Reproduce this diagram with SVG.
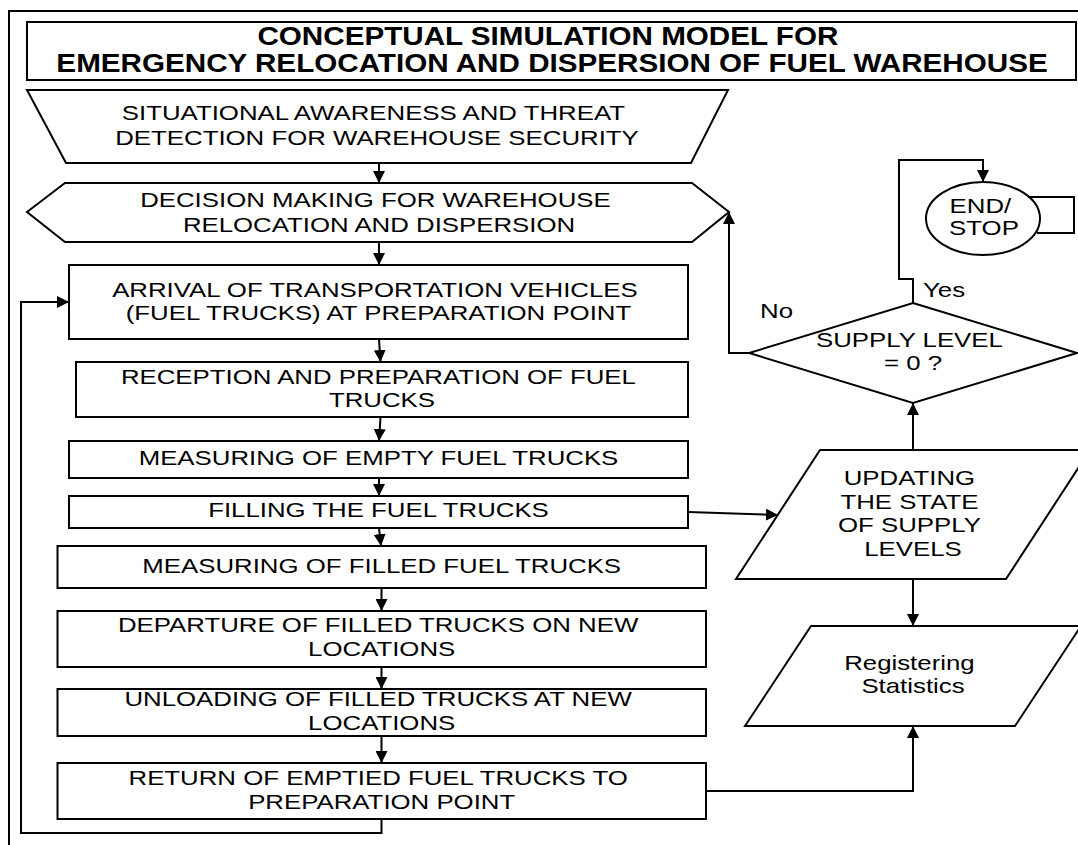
<svg xmlns="http://www.w3.org/2000/svg" width="1078" height="845" viewBox="0 0 1078 845">
  <style>
    .shape { fill: #ffffff; stroke: #000000; stroke-width: 2; }
    .frame { fill: none; stroke: #000000; stroke-width: 2; }
    .conn { fill: none; stroke: #000000; stroke-width: 2; }
    .arr { marker-end: url(#ah); }
    .t { font-family: "Liberation Sans", Arial, sans-serif; font-size: 20px; fill: #000000; text-anchor: middle; }
    .title { font-family: "Liberation Sans", Arial, sans-serif; font-size: 25px; font-weight: bold; fill: #000000; text-anchor: middle; }
    .lbl { font-family: "Liberation Sans", Arial, sans-serif; font-size: 20px; fill: #000000; text-anchor: start; }
  </style>
  <defs>
    <marker id="ah" viewBox="0 0 12 12" refX="12" refY="6" markerWidth="12" markerHeight="12" markerUnits="userSpaceOnUse" orient="auto">
      <path d="M0,0 L12,6 L0,12 z" fill="#000000"/>
    </marker>
  </defs>

  <rect width="1078" height="845" fill="#ffffff"/>

  <!-- outer frame, running off the right and bottom edges -->
  <rect class="frame" x="9" y="11" width="1100" height="900"/>

  <g id="title">
    <rect class="shape" x="27" y="22" width="1049" height="58"/>
    <text class="title" transform="translate(552 0) scale(1.185 1)">
      <tspan x="0" y="45.5">CONCEPTUAL SIMULATION MODEL FOR</tspan>
      <tspan x="0" y="72.5">EMERGENCY RELOCATION AND DISPERSION OF FUEL WAREHOUSE</tspan>
    </text>
  </g>

  <g id="threat-detection">
    <polygon class="shape" points="27,90 728,90 691,163 66,163"/>
    <text class="t" transform="translate(377 0) scale(1.29 1)">
      <tspan x="0" y="120.5">SITUATIONAL AWARENESS AND THREAT</tspan>
      <tspan x="0" y="145">DETECTION FOR WAREHOUSE SECURITY</tspan>
    </text>
  </g>

  <g id="decision-making">
    <polygon class="shape" points="27,212 65,183 692,183 729,212 692,242 65,242"/>
    <text class="t" transform="translate(379 0) scale(1.29 1)">
      <tspan x="0" y="207">DECISION MAKING FOR WAREHOUSE</tspan>
      <tspan x="0" y="232">RELOCATION AND DISPERSION</tspan>
    </text>
  </g>

  <g id="arrival">
    <rect class="shape" x="69" y="265" width="619" height="74"/>
    <text class="t" transform="translate(378.5 0) scale(1.29 1)">
      <tspan x="0" y="297.5">ARRIVAL OF TRANSPORTATION VEHICLES</tspan>
      <tspan x="0" y="320">(FUEL TRUCKS) AT PREPARATION POINT</tspan>
    </text>
  </g>

  <g id="reception">
    <rect class="shape" x="76" y="362" width="612" height="55"/>
    <text class="t" transform="translate(382 0) scale(1.29 1)">
      <tspan x="0" y="384">RECEPTION AND PREPARATION OF FUEL</tspan>
      <tspan x="0" y="407">TRUCKS</tspan>
    </text>
  </g>

  <g id="measuring-empty">
    <rect class="shape" x="69" y="441" width="619" height="37"/>
    <text class="t" transform="translate(378.5 0) scale(1.29 1)">
      <tspan x="0" y="465">MEASURING OF EMPTY FUEL TRUCKS</tspan>
    </text>
  </g>

  <g id="filling">
    <rect class="shape" x="69" y="496" width="619" height="32"/>
    <text class="t" transform="translate(378.5 0) scale(1.29 1)">
      <tspan x="0" y="517.5">FILLING THE FUEL TRUCKS</tspan>
    </text>
  </g>

  <g id="measuring-filled">
    <rect class="shape" x="57.5" y="546" width="648.5" height="42"/>
    <text class="t" transform="translate(381.7 0) scale(1.29 1)">
      <tspan x="0" y="573">MEASURING OF FILLED FUEL TRUCKS</tspan>
    </text>
  </g>

  <g id="departure">
    <rect class="shape" x="57.5" y="611" width="648.5" height="56"/>
    <text class="t" transform="translate(381.7 0) scale(1.29 1)">
      <tspan x="0" y="632.5">DEPARTURE OF FILLED TRUCKS ON NEW</tspan>
      <tspan x="0" y="656">LOCATIONS</tspan>
    </text>
  </g>

  <g id="unloading">
    <rect class="shape" x="57.5" y="689" width="648.5" height="47"/>
    <text class="t" transform="translate(381.7 0) scale(1.29 1)">
      <tspan x="0" y="706.5">UNLOADING OF FILLED TRUCKS AT NEW</tspan>
      <tspan x="0" y="730">LOCATIONS</tspan>
    </text>
  </g>

  <g id="return">
    <rect class="shape" x="57.5" y="763" width="648.5" height="56"/>
    <text class="t" transform="translate(381.7 0) scale(1.29 1)">
      <tspan x="0" y="785">RETURN OF EMPTIED FUEL TRUCKS TO</tspan>
      <tspan x="0" y="809">PREPARATION POINT</tspan>
    </text>
  </g>

  <g id="supply-check">
    <polygon class="shape" points="913,303 1077,353 913,403 749,353"/>
    <text class="t" transform="translate(913 0) scale(1.29 1)">
      <tspan x="0" y="347">SUPPLY LEVEL</tspan>
      <tspan x="0" y="370.5">= 0 ?</tspan>
    </text>
  </g>

  <g id="end-stop">
    <ellipse class="shape" cx="983" cy="218.5" rx="57" ry="36.5"/>
    <text class="t" transform="translate(984 0) scale(1.29 1)">
      <tspan x="0" y="213">END/</tspan>
      <tspan x="0" y="235">STOP</tspan>
    </text>
  </g>

  <g id="updating">
    <polygon class="shape" points="820,450 1090,450 1006,579 736,579"/>
    <text class="t" transform="translate(913 0) scale(1.29 1)">
      <tspan x="0" y="485">UPDATING</tspan>
      <tspan x="0" y="509">THE STATE</tspan>
      <tspan x="0" y="532.5">OF SUPPLY</tspan>
      <tspan x="0" y="556">LEVELS</tspan>
    </text>
  </g>

  <g id="statistics">
    <polygon class="shape" points="811,626 1081,626 1015,726 745,726"/>
    <text class="t" transform="translate(913 0) scale(1.29 1)">
      <tspan x="0" y="670">Registering</tspan>
      <tspan x="0" y="693">Statistics</tspan>
    </text>
  </g>

  <g id="connectors">
    <path class="conn arr" d="M379,163 V183"/>
    <path class="conn arr" d="M379,242 V265"/>
    <path class="conn arr" d="M379,339 L380.5,362"/>
    <path class="conn arr" d="M380.5,417 L379,441"/>
    <path class="conn arr" d="M379,478 V496"/>
    <path class="conn arr" d="M379,528 L381,546"/>
    <path class="conn arr" d="M381.5,588 V611"/>
    <path class="conn arr" d="M381.5,667 V689"/>
    <path class="conn arr" d="M381.5,736 V763"/>
    <path class="conn arr" d="M381.5,819 V833 H21 V302 H69"/>
    <path class="conn arr" d="M706,791 H913 V726"/>
    <path class="conn arr" d="M688,512 L778,515"/>
    <path class="conn arr" d="M913,450 V403"/>
    <path class="conn arr" d="M913,579 V626"/>
    <path class="conn arr" d="M749,353 H729 V212"/>
    <path class="conn arr" d="M913,303 V279 H899 V160 H983 V182"/>
    <path class="conn" d="M1028,197 H1074 V233 H1037"/>
    <text class="lbl" transform="translate(760 0) scale(1.29 1)" x="0" y="318">No</text>
    <text class="lbl" transform="translate(923 0) scale(1.29 1)" x="0" y="297.5">Yes</text>
  </g>
</svg>
